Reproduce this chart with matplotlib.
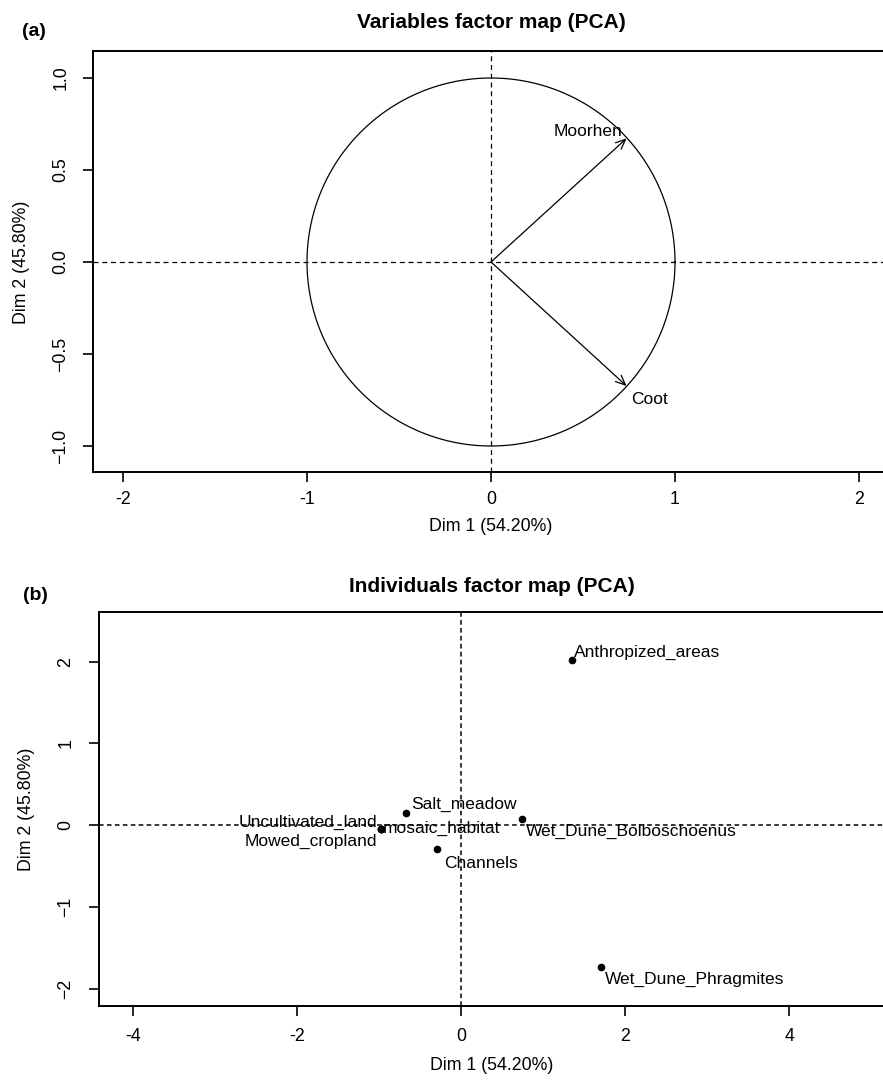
import numpy as np
import matplotlib
matplotlib.use("Agg")
import matplotlib.pyplot as plt

plt.rcParams['font.family'] = ['Liberation Sans', 'DejaVu Sans']

# variables (correlation circle)
var_names = ["Moorhen", "Coot"]
var_dim1 = [0.737, 0.737]
var_dim2 = [0.672, -0.674]

# individuals
ind_names = ["Anthropized_areas", "Salt_meadow", "Uncultivated_land", "Mowed_cropland",
             "mosaic_habitat", "Wet_Dune_Bolboschoenus", "Channels", "Wet_Dune_Phragmites"]
ind_dim1 = [1.35, -0.67, -0.976, -0.976, -0.976, 0.74, -0.29, 1.71]
ind_dim2 = [2.02, 0.155, -0.05, -0.05, -0.05, 0.074, -0.29, -1.73]

xlab = "Dim 1 (54.20%)"
ylab = "Dim 2 (45.80%)"

top_xticks = [-2, -1, 0, 1, 2]
top_xticklabels = ["-2", "-1", "0", "1", "2"]
top_yticks = [-1.0, -0.5, 0.0, 0.5, 1.0]
top_yticklabels = ["\u22121.0", "\u22120.5", "0.0", "0.5", "1.0"]
bot_xticks = [-4, -2, 0, 2, 4]
bot_xticklabels = ["-4", "-2", "0", "2", "4"]
bot_yticks = [-2, -1, 0, 1, 2]
bot_yticklabels = ["\u22122", "\u22121", "0", "1", "2"]

# label placement (pixel offsets from the point, alignment) - autoLab-like
var_place = [(-4, 2, 'right'), (5, -18, 'left')]
ind_place = [(2, 3, 'left'), (5, 4, 'left'), (-4, 2, 'right'), (-4, -17, 'right'),
             (2, -4, 'left'), (4, -17, 'left'), (7, -19, 'left'), (4, -17, 'left')]

W, H = 883, 1083
FS = 12.8
fig = plt.figure(figsize=(W / 100, H / 100), dpi=100)


def px_axes(l, r, t, b):
    return fig.add_axes([l / W, 1 - b / H, (r - l) / W, (b - t) / H])


def style_axes(ax, pad_x, pad_y):
    for s in ax.spines.values():
        s.set_linewidth(1.4)
    ax.tick_params(direction='out', length=7.5, width=1.2, labelsize=FS, colors='black')
    ax.tick_params(axis='x', pad=pad_x)
    ax.tick_params(axis='y', pad=pad_y, labelrotation=90)
    for lab in ax.get_yticklabels():
        lab.set_va('center')


# ---- (a) variables factor map
ax1 = px_axes(93, 889, 51.5, 472.5)
ax1.set_xlim(-2.163, 2.163)
ax1.set_ylim(-1.144, 1.144)
t = np.linspace(0, 2 * np.pi, 400)
ax1.plot(np.cos(t), np.sin(t), color='black', lw=0.9)
ax1.axhline(0, color='black', lw=0.9, dashes=(4, 3))
ax1.axvline(0, color='black', lw=0.9, dashes=(4, 3))
for name, x, y, (dx, dy, ha) in zip(var_names, var_dim1, var_dim2, var_place):
    ax1.annotate('', xy=(x, y), xytext=(0, 0),
                 arrowprops=dict(arrowstyle='->,head_length=0.5,head_width=0.22',
                                 lw=0.9, color='black', shrinkA=0, shrinkB=0,
                                 mutation_scale=14))
    ax1.annotate(name, xy=(x, y), xytext=(dx, dy), textcoords='offset pixels',
                 ha=ha, va='baseline', fontsize=12.5)
ax1.set_xticks(top_xticks)
ax1.set_xticklabels(top_xticklabels)
ax1.set_yticks(top_yticks)
ax1.set_yticklabels(top_yticklabels)
style_axes(ax1, 6, 9.6)
ax1.set_xlabel(xlab, fontsize=FS)
ax1.set_ylabel(ylab, fontsize=FS)
ax1.xaxis.set_label_coords(0.5, (472.5 - 527) / 421)
ax1.xaxis.label.set_va('center')
ax1.yaxis.set_label_coords((21.7 - 93) / 796, 0.5)
ax1.yaxis.label.set_va('center')

# ---- (b) individuals factor map
ax2 = px_axes(98.7, 885, 611.7, 1006)
ax2.set_xlim(-4.42, 5.17)
ax2.set_ylim(-2.21, 2.61)
ax2.axhline(0, color='black', lw=1.1, dashes=(3, 2.2))
ax2.axvline(0, color='black', lw=1.1, dashes=(3, 2.2))
ax2.plot(ind_dim1, ind_dim2, 'o', color='black', ms=4.5, ls='none')
for name, x, y, (dx, dy, ha) in zip(ind_names, ind_dim1, ind_dim2, ind_place):
    ax2.annotate(name, xy=(x, y), xytext=(dx, dy), textcoords='offset pixels',
                 ha=ha, va='baseline', fontsize=12.5)
ax2.set_xticks(bot_xticks)
ax2.set_xticklabels(bot_xticklabels)
ax2.set_yticks(bot_yticks)
ax2.set_yticklabels(bot_yticklabels)
style_axes(ax2, 8, 10)
ax2.set_xlabel(xlab, fontsize=FS)
ax2.set_ylabel(ylab, fontsize=FS)
ax2.xaxis.set_label_coords(0.5, (1006 - 1065) / 394.3)
ax2.xaxis.label.set_va('center')
ax2.yaxis.set_label_coords((26.7 - 98.7) / 786.3, 0.5)
ax2.yaxis.label.set_va('center')

# titles and panel letters
fig.text(491 / W, 1 - 22.7 / H, "Variables factor map (PCA)", ha='center', va='center',
         fontsize=15, fontweight='bold')
fig.text(492 / W, 1 - 586 / H, "Individuals factor map (PCA)", ha='center', va='center',
         fontsize=15, fontweight='bold')
fig.text(34 / W, 1 - 32 / H, "(a)", ha='center', va='center', fontsize=14, fontweight='bold')
fig.text(35 / W, 1 - 595 / H, "(b)", ha='center', va='center', fontsize=14, fontweight='bold')

fig.savefig("out.png", dpi=100)
